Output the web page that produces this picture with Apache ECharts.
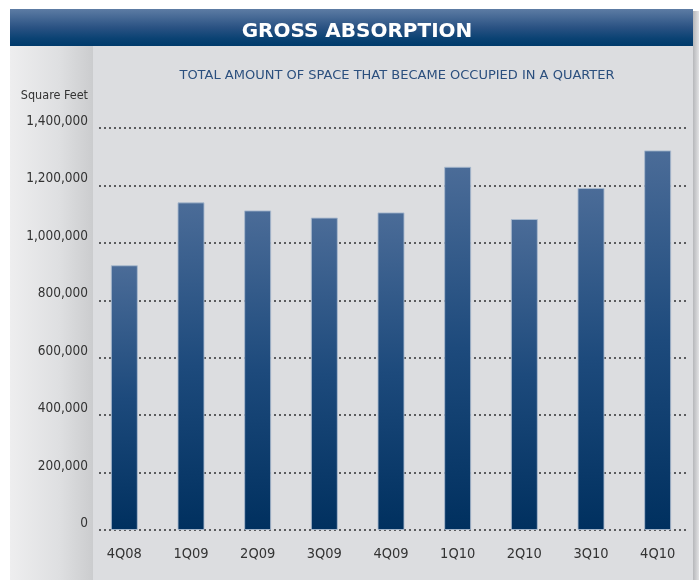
<!DOCTYPE html>
<html>
<head>
<meta charset="utf-8">
<script src="https://cdn.jsdelivr.net/npm/echarts@6/dist/echarts.min.js"></script>
<style>
html,body{margin:0;padding:0;background:#ffffff;}
#chart{width:699px;height:580px;}
</style>
</head>
<body>
<div id="chart"></div>
<script>
const categories = ['4Q08','1Q09','2Q09','3Q09','4Q09','1Q10','2Q10','3Q10','4Q10'];
const absorption = [922000, 1141000, 1113000, 1088000, 1106000, 1265000, 1083000, 1191000, 1322000];
const yTicks = [0, 200000, 400000, 600000, 800000, 1000000, 1200000, 1400000];
const titleText = 'GROSS ABSORPTION';
const subtitleText = 'TOTAL AMOUNT OF SPACE THAT BECAME OCCUPIED IN A QUARTER';
const unitText = 'Square Feet';

const narrow = '"Liberation Sans Narrow", "DejaVu Sans Condensed", "Liberation Sans", sans-serif';
const yMin = yTicks[0], yMax = yTicks[yTicks.length - 1], yStep = yTicks[1] - yTicks[0];

const chart = echarts.init(document.getElementById('chart'), null, {renderer: 'canvas'});
chart.setOption({
  animation: false,
  backgroundColor: '#ffffff',
  graphic: [
    {type: 'rect', z: -100, silent: true, shape: {x: 10, y: 46, width: 683, height: 534},
     style: {fill: '#dcdde0'}},
    {type: 'rect', z: -99, silent: true, shape: {x: 10, y: 46, width: 83, height: 534},
     style: {fill: new echarts.graphic.LinearGradient(0, 0, 1, 0, [
       {offset: 0, color: '#eeeeef'}, {offset: 0.6, color: '#dedfe1'}, {offset: 1, color: '#cbccce'}])}},
    {type: 'rect', z: -99, silent: true, shape: {x: 693, y: 11, width: 6, height: 569},
     style: {fill: new echarts.graphic.LinearGradient(0, 0, 1, 0, [
       {offset: 0, color: '#b6b7ba'}, {offset: 1, color: '#e2e2e4'}])}},
    {type: 'rect', z: -98, silent: true, shape: {x: 10, y: 9, width: 683, height: 37},
     style: {fill: new echarts.graphic.LinearGradient(0, 0, 0, 1, [
       {offset: 0, color: '#5d7ca4'}, {offset: 0.5, color: '#2a5283'}, {offset: 0.8, color: '#0a4273'}, {offset: 1, color: '#003a6b'}])}}
  ],
  title: [
    {text: titleText, left: 352, top: 27, textAlign: 'center', textVerticalAlign: 'middle',
     textStyle: {color: '#ffffff', fontFamily: '"DejaVu Sans"', fontWeight: 'bold', fontSize: 20}},
    {text: subtitleText, left: 392, top: 71, textAlign: 'center', textVerticalAlign: 'middle',
     textStyle: {color: '#2b4f7e', fontFamily: '"DejaVu Sans"', fontWeight: 'normal', fontSize: 13}}
  ],
  grid: [
    {left: 91, right: 8, top: 128, bottom: 50},
    {left: 99, right: 12, top: 128, bottom: 50}
  ],
  xAxis: [
    {type: 'category', gridIndex: 0, data: categories,
     axisLine: {show: false}, axisTick: {show: false},
     axisLabel: {color: '#333333', fontFamily: narrow, fontSize: 14.5, margin: 17}},
    {type: 'category', gridIndex: 1, data: categories, show: false}
  ],
  yAxis: [
    {type: 'value', gridIndex: 0, min: yMin, max: yMax, interval: yStep, show: false},
    {type: 'value', gridIndex: 1, min: yMin, max: yMax, interval: yStep,
     name: unitText, nameLocation: 'end', nameGap: 32,
     nameTextStyle: {color: '#333333', fontFamily: narrow, fontSize: 12.5, align: 'right',
                     verticalAlign: 'middle', padding: [0, 11, 0, 0]},
     axisLine: {show: false}, axisTick: {show: false},
     axisLabel: {color: '#333333', fontFamily: narrow, fontSize: 13.5, margin: 11,
                 verticalAlign: 'bottom', lineHeight: 13,
                 formatter: v => v.toLocaleString('en-US')},
     splitLine: {show: true, lineStyle: {color: '#5a5b5e', width: 2, type: [2, 3]}}}
  ],
  series: [{
    type: 'bar', xAxisIndex: 0, yAxisIndex: 0, data: absorption, barWidth: 27,
    z: 5,
    itemStyle: {
      color: new echarts.graphic.LinearGradient(0, 0, 0, 1, [
        {offset: 0, color: '#4b6c98'}, {offset: 0.5, color: '#1d4a7c'}, {offset: 1, color: '#00305f'}]),
      borderColor: 'rgba(170,186,206,0.9)', borderWidth: 1
    }
  }]
});
</script>
</body>
</html>
